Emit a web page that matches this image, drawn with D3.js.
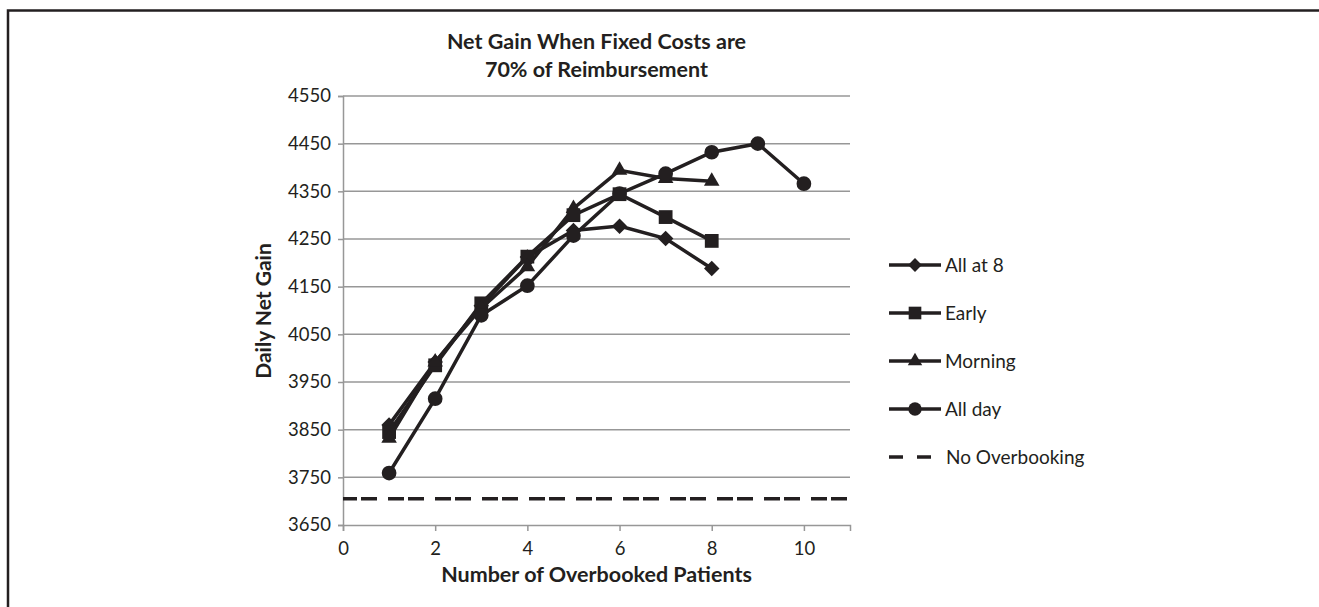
<!DOCTYPE html>
<html><head><meta charset="utf-8">
<script src="https://cdn.jsdelivr.net/npm/d3@7"></script>
<style>body{margin:0;background:#fff}svg{display:block}</style>
</head><body><svg id="c" width="1319" height="607"></svg>
<script>
const xs = [1,2,3,4,5,6,7,8,9,10];
const allAt8 = [3860,3992,4110,4212,4268,4277,4251,4188];
const early = [3845,3985,4115,4213,4300,4344,4296,4246];
const morning = [3832,3992,4105,4192,4314,4394,4377,4371];
const allDay = [3759,3915,4090,4152,4257,4345,4387,4432,4450,4366];
const noOverbooking = 3705;
const seriesNames = ["All at 8","Early","Morning","All day"];
const symbols = ["diamond","square","triangle","circle"];
const yTicks = [3650,3750,3850,3950,4050,4150,4250,4350,4450,4550];
const xTicks = [0,2,4,6,8,10];

const font = "Lato, 'Open Sans', sans-serif";
const ink = "#231f20";
const svg = d3.select("#c");
svg.append("path").attr("d","M8,1000 L8,10.5 L1400,10.5").attr("fill","none").attr("stroke",ink).attr("stroke-width",2.5);

const L=343,R=850,T=96,B=525;
const x = d3.scaleLinear().domain([0,11]).range([L,R]);
const y = d3.scaleLinear().domain([3650,4550]).range([B,T]);
const grey="#979797";

// gridlines
svg.append("g").selectAll("line").data(yTicks.slice(1)).join("line")
  .attr("x1",L).attr("x2",R).attr("y1",d=>y(d)).attr("y2",d=>y(d))
  .attr("stroke",grey).attr("stroke-width",1.5);

const yAx = svg.append("g").attr("transform",`translate(${L},0)`)
  .call(d3.axisLeft(y).tickValues(yTicks).tickSize(5).tickPadding(7).tickFormat(d3.format("d")));
const xAx = svg.append("g").attr("transform",`translate(0,${B})`)
  .call(d3.axisBottom(x).tickValues(xTicks).tickSize(6).tickPadding(11).tickFormat(d3.format("d")));
[yAx,xAx].forEach(a=>{
  a.select(".domain").attr("stroke",grey).attr("stroke-width",1.5);
  a.selectAll(".tick line").attr("stroke",grey).attr("stroke-width",1.5);
  a.selectAll("text").attr("font-family",font).attr("font-size",18.5).attr("fill",ink);
});

// no overbooking
svg.append("line").attr("x1",L).attr("x2",R).attr("y1",y(noOverbooking)).attr("y2",y(noOverbooking))
  .attr("stroke",ink).attr("stroke-width",3.5).attr("stroke-dasharray","16,4,16,11").attr("stroke-dashoffset",2);

const data = [allAt8,early,morning,allDay];
const line = d3.line().x((d,i)=>x(xs[i])).y(d=>y(d));
const diamond = {draw(ctx,size){const r=Math.sqrt(size/2);ctx.moveTo(0,-r);ctx.lineTo(r,0);ctx.lineTo(0,r);ctx.lineTo(-r,0);ctx.closePath();}};
const symType = {diamond:diamond,square:d3.symbolSquare,triangle:d3.symbolTriangle,circle:d3.symbolCircle};
const symSize = {diamond:120,square:190,triangle:105,circle:170};
const legSize = {diamond:95,square:160,triangle:90,circle:140};
data.forEach((s,k)=>{
  svg.append("path").attr("d",line(s)).attr("fill","none").attr("stroke",ink).attr("stroke-width",3.5);
});
data.forEach((s,k)=>{
  svg.append("g").selectAll("path").data(s).join("path")
    .attr("transform",(d,i)=>`translate(${x(xs[i])},${y(d)})`)
    .attr("d",d3.symbol().type(symType[symbols[k]]).size(symSize[symbols[k]])).attr("fill",ink);
});

// legend
const legY=[265,313,361,409,457];
const lg = svg.append("g");
seriesNames.forEach((n,k)=>{
  lg.append("line").attr("x1",889).attr("x2",941).attr("y1",legY[k]).attr("y2",legY[k]).attr("stroke",ink).attr("stroke-width",3.5);
  lg.append("path").attr("transform",`translate(915,${legY[k]})`)
    .attr("d",d3.symbol().type(symType[symbols[k]]).size(legSize[symbols[k]])).attr("fill",ink);
  lg.append("text").attr("x",945).attr("y",legY[k]).attr("dy","0.35em").text(n)
    .attr("font-family",font).attr("font-size",19).attr("fill",ink);
});
lg.append("line").attr("x1",889).attr("x2",931).attr("y1",legY[4]).attr("y2",legY[4]).attr("stroke",ink).attr("stroke-width",3.5).attr("stroke-dasharray","14,14");
lg.append("text").attr("x",946).attr("y",legY[4]).attr("dy","0.35em").text("No Overbooking")
  .attr("font-family",font).attr("font-size",19).attr("fill",ink);

// titles
const cx=(L+R)/2;
const t = svg.append("text").attr("text-anchor","middle").attr("font-family",font).attr("font-weight","bold").attr("font-size",21.5).attr("fill",ink);
t.append("tspan").attr("x",cx).attr("y",48.5).text("Net Gain When Fixed Costs are");
t.append("tspan").attr("x",cx).attr("y",76.5).text("70% of Reimbursement");
svg.append("text").attr("x",cx).attr("y",582).attr("text-anchor","middle").attr("font-family",font).attr("font-weight","bold").attr("font-size",21.5).attr("fill",ink).text("Number of Overbooked Patients");
svg.append("text").attr("transform","translate(271,311) rotate(-90)").attr("text-anchor","middle").attr("font-family",font).attr("font-weight","bold").attr("font-size",21).attr("fill",ink).text("Daily Net Gain");
</script></body></html>
